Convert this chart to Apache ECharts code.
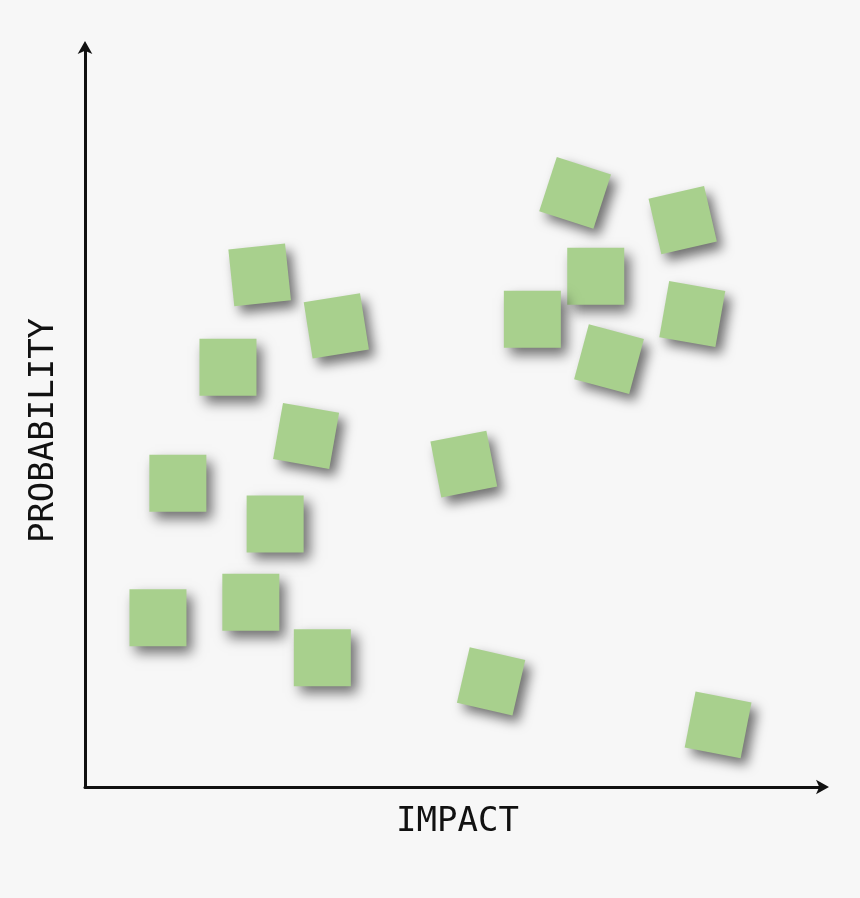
<!DOCTYPE html>
<html>
<head>
<meta charset="utf-8">
<script src="https://cdn.jsdelivr.net/npm/echarts@6/dist/echarts.min.js"></script>
<style>
  html, body { margin: 0; padding: 0; background: #f7f7f7; }
  #main { width: 860px; height: 898px; }
</style>
</head>
<body>
<div id="main"></div>
<script>
// sticky notes: impact (x) / probability (y), on a 0-100 scale
var impact = [66.5, 81.1, 69.3, 60.7, 82.4, 71.1, 23.7, 34.1, 19.4, 30.0, 51.4, 55.1, 85.9, 12.6, 25.8, 9.9, 22.5, 32.2];
var probability = [80.4, 76.7, 69.1, 63.3, 64.0, 57.9, 69.3, 62.4, 56.8, 47.5, 43.7, 14.3, 8.4, 41.1, 35.6, 22.9, 25.0, 17.5];
// how much each note is tilted (degrees)
var tilt = [-18, 13, 0, 0, -10, -15, 6, 9, 0, -10, 11, -13, -11, 0, 0, 0, 0, 0];

var xName = 'IMPACT';
var yName = 'PROBABILITY';

var notes = [];
for (var i = 0; i < impact.length; i++) {
    notes.push({
        value: [impact[i], probability[i]],
        symbolRotate: tilt[i]
    });
}

var myChart = echarts.init(document.getElementById('main'));

var axisLine = {
    show: true,
    symbol: ['none', 'arrow'],
    symbolSize: [11, 13],
    symbolOffset: [0, 7],
    lineStyle: { color: '#111', width: 3 }
};

var option = {
    backgroundColor: '#f7f7f7',
    animation: false,
    grid: { left: 85, right: 38, top: 48, bottom: 111 },
    xAxis: {
        type: 'value',
        min: 0,
        max: 100,
        name: xName,
        nameLocation: 'middle',
        nameGap: 18,
        nameTextStyle: {
            color: '#111',
            fontSize: 34,
            fontFamily: 'DejaVu Sans Mono',
            padding: [0, 0, 0, 8]
        },
        axisLine: axisLine,
        axisTick: { show: false },
        axisLabel: { show: false },
        splitLine: { show: false }
    },
    yAxis: {
        type: 'value',
        min: 0,
        max: 100,
        name: yName,
        nameLocation: 'middle',
        nameGap: 24,
        nameRotate: 90,
        nameTextStyle: {
            color: '#111',
            fontSize: 34,
            fontFamily: 'DejaVu Sans Mono',
            padding: [0, 26, 0, 0]
        },
        axisLine: axisLine,
        axisTick: { show: false },
        axisLabel: { show: false },
        splitLine: { show: false }
    },
    series: [
        {
            type: 'scatter',
            symbol: 'rect',
            symbolSize: 57,
            data: notes,
            itemStyle: {
                color: '#a8d08d',
                opacity: 1,
                shadowColor: 'rgba(0, 0, 0, 0.55)',
                shadowBlur: 12,
                shadowOffsetX: 6,
                shadowOffsetY: 7
            },
            emphasis: { disabled: true }
        }
    ]
};

myChart.setOption(option);
</script>
</body>
</html>
